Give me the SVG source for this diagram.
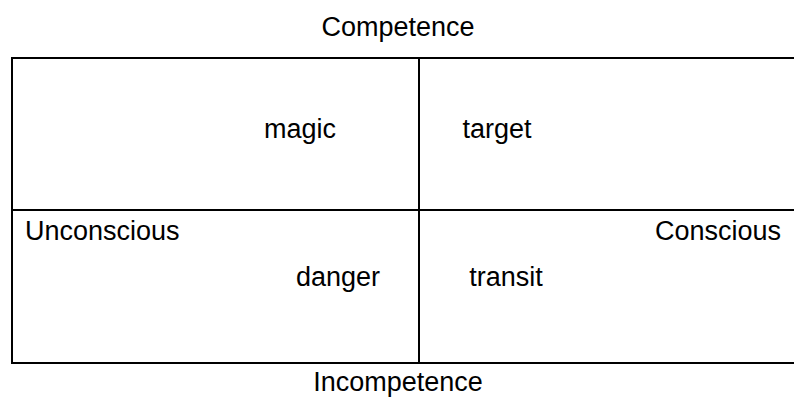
<svg xmlns="http://www.w3.org/2000/svg" width="794" height="399" viewBox="0 0 794 399">
<style>
.t{font-family:"Liberation Sans",Arial,sans-serif;font-size:27px;fill:#000}
.m{text-anchor:middle}
.ln{stroke:#000;stroke-width:2;fill:none}
</style>
<rect width="794" height="399" fill="#fff"/>
<g id="grid">
<path class="ln" d="M800 58 H12 V363 H800"/>
<path class="ln" d="M419 58 V363"/>
<path class="ln" d="M12 210 H800"/>
</g>
<g id="axis-top"><text class="t m" x="398" y="36">Competence</text></g>
<g id="axis-bottom"><text class="t m" x="398" y="391">Incompetence</text></g>
<g id="axis-left"><text class="t" x="25" y="240">Unconscious</text></g>
<g id="axis-right"><text class="t" x="781" y="240" text-anchor="end">Conscious</text></g>
<g id="q-magic"><text class="t m" x="300" y="138">magic</text></g>
<g id="q-target"><text class="t m" x="497" y="138">target</text></g>
<g id="q-danger"><text class="t m" x="338" y="286">danger</text></g>
<g id="q-transit"><text class="t m" x="506" y="286">transit</text></g>
<g id="connectors"></g>
</svg>
